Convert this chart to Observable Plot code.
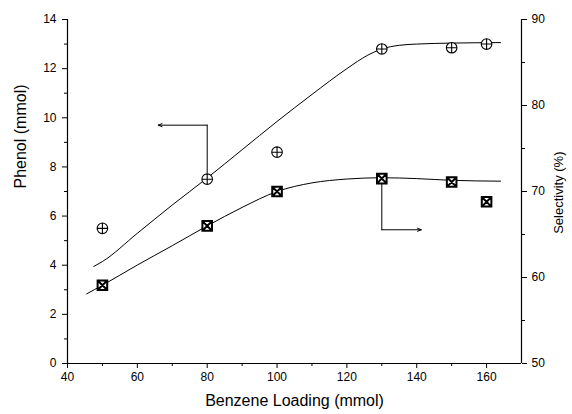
<!DOCTYPE html>
<html>
<head>
<meta charset="utf-8">
<script src="https://cdn.jsdelivr.net/npm/d3@7"></script>
<script src="https://cdn.jsdelivr.net/npm/@observablehq/plot@0.6"></script>
<style>
  body { margin: 0; background: white; }
  #chart { width: 572px; height: 414px; }
</style>
</head>
<body>
<div id="chart"></div>
<script>
// Measured data
const loading = [50, 80, 100, 130, 150, 160];
const phenol = [5.5, 7.5, 8.6, 12.8, 12.85, 13.0];
const selectivity = [59.1, 66.0, 70.0, 71.5, 71.1, 68.8];

// Fitted curves
const phenolFitX = [47.5, 50, 60, 70, 80, 90, 100, 110, 120, 126, 130, 135, 140, 150, 164];
const phenolFitY = [3.95, 4.15, 5.3, 6.45, 7.55, 8.7, 9.85, 10.95, 12.0, 12.55, 12.8, 12.95, 13.0, 13.04, 13.06];
const selFitX = [45.5, 50, 60, 70, 80, 90, 100, 110, 120, 130, 140, 150, 164];
const selFitY = [58.1, 59.1, 61.45, 63.7, 66.0, 68.15, 70.0, 71.0, 71.45, 71.6, 71.5, 71.3, 71.2];

// Annotation arrows
const phenolArrowX = [80, 80, 66];
const phenolArrowY = [7.75, 9.7, 9.7];
const selArrowX = [130, 130, 141.3];
const selArrowY = [70.9, 65.55, 65.55];

// Tick labels
const xTicks = [40, 60, 80, 100, 120, 140, 160];
const xMinor = [50, 70, 90, 110, 130, 150];
const leftTicks = [0, 2, 4, 6, 8, 10, 12, 14];
const leftMinor = [1, 3, 5, 7, 9, 11, 13];
const rightTicks = [50, 60, 70, 80, 90];
const rightMinor = [55, 65, 75, 85];

const xLabel = "Benzene Loading (mmol)";
const yLabel = "Phenol (mmol)";
const y2Label = "Selectivity (%)";

// Selectivity (50-90 %) shares the frame with Phenol (0-14 mmol)
const toLeft = s => (s - 50) * 14 / 40;

const pts = loading.map((x, i) => ({x, phenol: phenol[i], sel: toLeft(selectivity[i])}));
const fitP = phenolFitX.map((x, i) => ({x, y: phenolFitY[i]}));
const fitS = selFitX.map((x, i) => ({x, y: toLeft(selFitY[i])}));

const circlePlus = {
  draw(ctx, size) {
    const r = Math.sqrt(size / Math.PI);
    ctx.moveTo(r, 0);
    ctx.arc(0, 0, r, 0, 2 * Math.PI);
    ctx.moveTo(-r, 0); ctx.lineTo(r, 0);
    ctx.moveTo(0, -r); ctx.lineTo(0, r);
  }
};
const squareX = {
  draw(ctx, size) {
    const s = Math.sqrt(size / Math.PI);
    ctx.moveTo(-s, -s); ctx.lineTo(s, -s); ctx.lineTo(s, s); ctx.lineTo(-s, s); ctx.closePath();
    ctx.moveTo(-s, -s); ctx.lineTo(s, s);
    ctx.moveTo(s, -s); ctx.lineTo(-s, s);
  }
};

const font = "'Liberation Sans', Arial, Helvetica, sans-serif";

const chart = Plot.plot({
  width: 572,
  height: 414,
  marginLeft: 67,
  marginRight: 51,
  marginTop: 19,
  marginBottom: 51,
  style: {fontFamily: font, fontSize: "12px", background: "white", color: "black"},
  x: {domain: [40, 170]},
  y: {domain: [0, 14]},
  marks: [
    // axis lines
    Plot.ruleX([40], {stroke: "black", strokeWidth: 1.2}),
    Plot.ruleX([170], {stroke: "black", strokeWidth: 1.2}),
    Plot.ruleY([0], {stroke: "black", strokeWidth: 1.2}),
    // bottom axis
    Plot.axisX(xTicks, {tickSize: 5, tickPadding: 4, label: null, fontSize: 12}),
    Plot.axisX(xMinor, {tickSize: 3, tickFormat: () => "", label: null}),
    // left axis
    Plot.axisY(leftTicks, {tickSize: 5, tickPadding: 6, label: null, fontSize: 12}),
    Plot.axisY(leftMinor, {tickSize: 3, tickFormat: () => "", label: null}),
    // right axis (selectivity)
    Plot.axisY(rightTicks.map(toLeft), {anchor: "right", tickSize: 5, tickPadding: 5, label: null, fontSize: 12,
      tickFormat: d => String(Math.round(50 + d * 40 / 14))}),
    Plot.axisY(rightMinor.map(toLeft), {anchor: "right", tickSize: 3, tickFormat: () => "", label: null}),
    // fitted curves
    Plot.line(fitP, {x: "x", y: "y", curve: "monotone-x", stroke: "black", strokeWidth: 1}),
    Plot.line(fitS, {x: "x", y: "y", curve: "monotone-x", stroke: "black", strokeWidth: 1}),
    // annotation arrows
    Plot.line([0, 1], {x: i => phenolArrowX[i], y: i => phenolArrowY[i], stroke: "black", strokeWidth: 1}),
    Plot.arrow([0], {x1: () => phenolArrowX[1], y1: () => phenolArrowY[1], x2: () => phenolArrowX[2], y2: () => phenolArrowY[2],
      stroke: "black", strokeWidth: 1, headLength: 6, headAngle: 45}),
    Plot.line([0, 1], {x: i => selArrowX[i], y: i => toLeft(selArrowY[i]), stroke: "black", strokeWidth: 1}),
    Plot.arrow([0], {x1: () => selArrowX[1], y1: () => toLeft(selArrowY[1]), x2: () => selArrowX[2], y2: () => toLeft(selArrowY[2]),
      stroke: "black", strokeWidth: 1, headLength: 6, headAngle: 45}),
    // markers
    Plot.dot(pts, {x: "x", y: "phenol", symbol: circlePlus, r: 5.3, fill: "white", stroke: "black", strokeWidth: 1.1}),
    Plot.dot(pts, {x: "x", y: "sel", symbol: squareX, r: 4.8, fill: "white", stroke: "black", strokeWidth: 2}),
    // axis titles
    Plot.text([xLabel], {text: d => d, frameAnchor: "bottom", dy: 42, fontSize: 16, fill: "black"}),
    Plot.text([yLabel], {text: d => d, frameAnchor: "left", dx: -47, dy: -3, rotate: -90, fontSize: 16, fill: "black"}),
    Plot.text([y2Label], {text: d => d, frameAnchor: "right", dx: 37, dy: -40, rotate: -90, fontSize: 13, fill: "black"})
  ]
});
document.getElementById("chart").appendChild(chart);
</script>
</body>
</html>
